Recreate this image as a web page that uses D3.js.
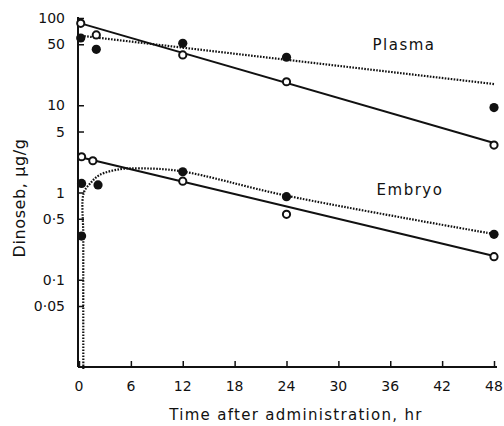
<!DOCTYPE html>
<html><head><meta charset="utf-8">
<script src="https://cdn.jsdelivr.net/npm/d3@7"></script>
<style>body{margin:0;background:#fff}svg{display:block}text{font-family:"DejaVu Sans",sans-serif;fill:#111}</style>
</head><body><svg id="c" width="504" height="426"></svg>
<script>
// Data (hours, µg/g)
const xTicks = [0, 6, 12, 18, 24, 30, 36, 42, 48];
const yTicks = [100, 50, 10, 5, 1, 0.5, 0.1, 0.05];
const yTickLabels = ["100", "50", "10", "5", "1", "0·5", "0·1", "0·05"];

const plasmaOpen = [[0.2, 87], [2, 64], [12, 37.7], [24, 18.6], [48, 3.5]];
const plasmaFilled = [[0.2, 59], [2, 43.8], [12, 51.3], [24, 35.5], [48, 9.4]];
const plasmaSolidFit = [[0, 88], [48, 3.7]];
const plasmaDottedFit = [[0.6, 62], [48, 17.5]];

const embryoOpen = [[0.3, 2.57], [1.6, 2.31], [12, 1.35], [24, 0.562], [48, 0.184]];
const embryoFilled = [[0.3, 1.27], [2.2, 1.22], [0.3, 0.317], [12, 1.73], [24, 0.895], [48, 0.332]];
const embryoSolidFit = [[0.3, 2.52], [48, 0.187]];
const embryoDottedFit = [[0.5, 0.0095], [0.5, 0.3], [0.55, 0.99], [1.3, 1.27], [2.4, 1.59], [4.75, 1.85], [7.1, 1.89], [11.7, 1.76], [24, 0.92], [48, 0.334]];

const svg = d3.select("#c");
const x = d3.scaleLinear().domain([0, 48]).range([79, 494]);
const y = d3.scaleLog().domain([0.01, 100]).range([367, 18]);
const axisX = 78, baseY = 367;

// axes lines
svg.append("line").attr("x1", axisX).attr("x2", axisX).attr("y1", baseY).attr("y2", 17)
  .attr("stroke", "#111").attr("stroke-width", 2);
svg.append("line").attr("x1", axisX).attr("x2", 497).attr("y1", baseY).attr("y2", baseY)
  .attr("stroke", "#111").attr("stroke-width", 2);

// y ticks (inward)
const yAxis = d3.axisRight(y).tickValues(yTicks).tickSize(6).tickFormat("");
svg.append("g").attr("transform", `translate(${axisX},0)`).call(yAxis)
  .call(g => g.select(".domain").remove())
  .call(g => g.selectAll("line").attr("stroke", "#111").attr("stroke-width", 1.5));
svg.selectAll(".ylab").data(yTicks).join("text").attr("class", "ylab")
  .attr("x", 65).attr("y", d => y(d) + 5).attr("text-anchor", "end")
  .attr("font-size", 14).text((d, i) => yTickLabels[i]);

// x ticks (inward)
const xAxis = d3.axisTop(x).tickValues(xTicks).tickSize(6).tickFormat("");
svg.append("g").attr("transform", `translate(0,${baseY})`).call(xAxis)
  .call(g => g.select(".domain").remove())
  .call(g => g.selectAll("line").attr("stroke", "#111").attr("stroke-width", 1.5));
svg.selectAll(".xlab").data(xTicks).join("text").attr("class", "xlab")
  .attr("x", d => x(d)).attr("y", 391).attr("text-anchor", "middle")
  .attr("font-size", 14).text(d => d);

// titles
svg.append("text").attr("x", 296).attr("y", 420).attr("text-anchor", "middle")
  .attr("font-size", 15).attr("letter-spacing", 1.3).text("Time after administration, hr");
svg.append("text").attr("transform", "translate(25,198) rotate(-90)").attr("text-anchor", "middle")
  .attr("font-size", 16).attr("letter-spacing", 0.6).text("Dinoseb, μg/g");
svg.append("text").attr("x", 404).attr("y", 50).attr("text-anchor", "middle")
  .attr("font-size", 15).attr("letter-spacing", 1.5).text("Plasma");
svg.append("text").attr("x", 410).attr("y", 195).attr("text-anchor", "middle")
  .attr("font-size", 15).attr("letter-spacing", 1.5).text("Embryo");

// lines
const lin = d3.line().x(d => x(d[0])).y(d => y(d[1]));
const curve = d3.line().x(d => x(d[0])).y(d => y(d[1])).curve(d3.curveCatmullRom.alpha(0.5));
svg.append("path").attr("d", lin(plasmaSolidFit)).attr("fill", "none").attr("stroke", "#111").attr("stroke-width", 2);
svg.append("path").attr("d", lin(embryoSolidFit)).attr("fill", "none").attr("stroke", "#111").attr("stroke-width", 2);
svg.append("path").attr("d", lin(plasmaDottedFit)).attr("fill", "none").attr("stroke", "#111")
  .attr("stroke-width", 2.2).attr("stroke-dasharray", "1.6,1.4");
svg.append("path").attr("d", curve(embryoDottedFit)).attr("fill", "none").attr("stroke", "#111")
  .attr("stroke-width", 2.2).attr("stroke-dasharray", "1.6,1.4");

// markers
const allFilled = plasmaFilled.concat(embryoFilled);
const allOpen = plasmaOpen.concat(embryoOpen);
svg.selectAll(".f").data(allFilled).join("circle").attr("class", "f")
  .attr("cx", d => x(d[0])).attr("cy", d => y(d[1])).attr("r", 4.6).attr("fill", "#111");
svg.selectAll(".o").data(allOpen).join("circle").attr("class", "o")
  .attr("cx", d => x(d[0])).attr("cy", d => y(d[1])).attr("r", 3.6)
  .attr("fill", "#fff").attr("stroke", "#111").attr("stroke-width", 2);
</script></body></html>
